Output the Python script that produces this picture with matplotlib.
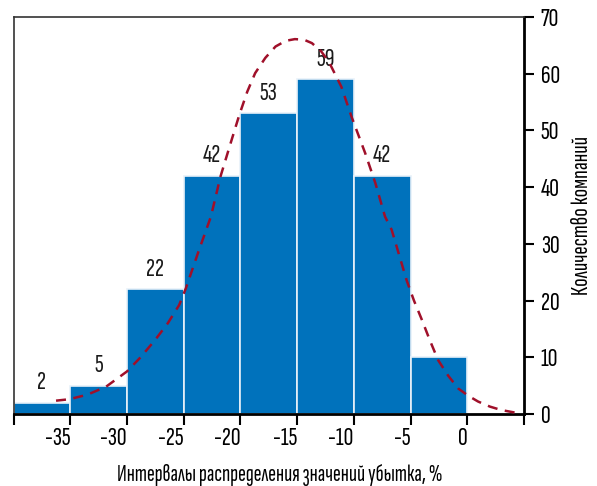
import matplotlib
matplotlib.use("Agg")
import matplotlib.pyplot as plt

plt.rcParams['font.family'] = ["Sofia Sans Extra Condensed", "Fira Sans Extra Condensed", "DejaVu Sans"]

# Data
bin_left = [-40, -35, -30, -25, -20, -15, -10, -5]
counts = [2, 5, 22, 42, 53, 59, 42, 10]
bar_labels = ["2", "5", "22", "42", "53", "59", "42", ""]
curve_x = [-36.25, -35.1, -33.5, -31.85, -30.0, -28.8, -27.5, -26.4, -25.4, -24.8, -23.65,
           -22.6, -21.75, -20.9, -20.1, -19.4, -18.7, -17.8, -16.9, -16.0, -15.2, -14.4, -13.7,
           -12.9, -12.2, -11.1, -10.2, -9.0, -8.1, -7.25, -6.67, -6.0, -5.35, -4.7, -4.0, -3.3,
           -2.57, -1.7, -0.8, 0.1, 0.95, 2.0, 3.0, 4.6]
curve_y = [2.35, 2.6, 3.4, 4.8, 7.5, 10.0, 13.1, 16.0, 19.2, 22.2, 28.9,
           34.8, 41.9, 47.5, 52.7, 56.8, 60.1, 62.8, 64.8, 65.8, 66.1, 66.0, 65.4,
           64.0, 62.1, 57.7, 52.4, 46.0, 40.7, 34.8, 32.5, 28.0, 23.6, 20.0, 16.6, 13.0,
           9.5, 6.8, 4.5, 3.2, 2.2, 1.3, 0.7, 0.1]
x_ticks = [-40, -35, -30, -25, -20, -15, -10, -5, 0, 5]
x_ticklabels = ["", "-35", "-30", "-25", "-20", "-15", "-10", "-5", "0", ""]
y_ticks = [0, 10, 20, 30, 40, 50, 60, 70]

fig = plt.figure(figsize=(5.97, 4.86), dpi=100)
ax = fig.add_axes([13.5/597, 72/486, (524-13.5)/597, 397/486])

ax.bar(bin_left, counts, width=5, align='edge', color='#0072BC',
       edgecolor='#e8f1f9', linewidth=1.2, zorder=2)
for x, c, lab in zip(bin_left, counts, bar_labels):
    if lab:
        ax.annotate(lab, (x + 2.5, c), xytext=(0, 6), textcoords='offset points',
                    ha='center', va='bottom', fontsize=19.5, color='#1a1a1a')

ax.plot(curve_x, curve_y, linestyle=(0, (4, 3)), color='#A0102A', lw=1.8, zorder=3)

ax.set_xlim(-40, 5)
ax.set_ylim(0, 70)
ax.set_xticks(x_ticks)
ax.set_xticklabels(x_ticklabels, ha='right')
ax.set_yticks(y_ticks)
ax.yaxis.tick_right()
ax.yaxis.set_label_position('right')
ax.tick_params(axis='x', direction='out', length=8, width=1.5, labelsize=19.5, pad=1)
ax.tick_params(axis='y', direction='out', length=7, width=1.5, labelsize=19.5, pad=5)
for s in ['left', 'top']:
    ax.spines[s].set_linewidth(1.2)
    ax.spines[s].set_color('#333333')
for s in ['right', 'bottom']:
    ax.spines[s].set_linewidth(2)
    ax.spines[s].set_color('black')

ax.set_xlabel("Интервалы распределения значений убытка, %", fontsize=17)
ax.xaxis.set_label_coords(0.522, -0.125)
ax.set_ylabel("Количество компаний", fontsize=18, labelpad=8)

fig.savefig("out.png", dpi=100)
